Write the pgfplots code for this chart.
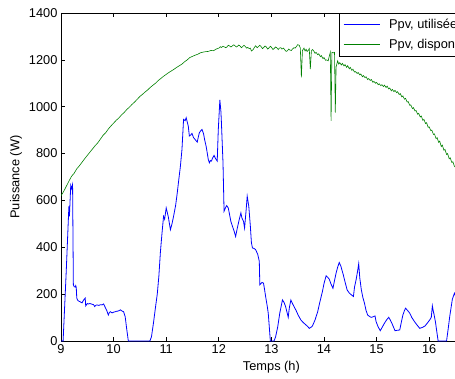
\documentclass[border=0pt]{standalone}
\usepackage{pgfplots}
\pgfplotsset{compat=1.18}
\usepackage{fontspec}
\setmainfont{Liberation Sans}
\definecolor{mblue}{rgb}{0,0,1}
\definecolor{mgreen}{rgb}{0,0.5,0}
\begin{document}
\begin{tikzpicture}
\begin{axis}[
  at={(61pt,37pt)}, anchor=south west,
  scale only axis, width=420.8pt, height=328pt,
  xmin=9, xmax=17, ymin=0, ymax=1400,
  xtick={9,10,...,17}, ytick={0,200,...,1400},
  tick align=inside, major tick length=4pt,
  axis line style={black, line width=0.6pt},
  tick style={black, line width=0.6pt},
  /pgf/number format/assume math mode=true,
  /pgf/number format/1000 sep={},
  tick label style={font=\fontsize{12.8}{15}\selectfont},
  xlabel={Temps (h)}, ylabel={Puissance (W)},
  xlabel style={at={(axis description cs:0.5,-0.079)}, anchor=center, font=\fontsize{12.8}{15}\selectfont},
  ylabel style={at={(axis description cs:-0.107,0.5)}, rotate=0, anchor=center, font=\fontsize{12.8}{15}\selectfont},
  legend style={at={(axis description cs:0.6607,1)}, anchor=north west,
    draw=black, line width=0.6pt, fill=white,
    font=\fontsize{12.8}{15}\selectfont,
    inner xsep=4pt, inner ysep=4pt, row sep=5pt, column sep=7pt,
    nodes={inner sep=2pt, anchor=west}},
  legend cell align=left,
  legend image code/.code={\draw[#1, line width=0.8pt] (0pt,0pt) -- (36pt,0pt);},
]
\addplot[mblue, line width=0.8pt] coordinates {
(9.00,0)(9.04,0)(9.10,300)(9.15,575)(9.16,532)(9.185,663)(9.20,650)(9.22,668)(9.235,240)(9.25,232)(9.27,230)(9.28,236)(9.29,228)(9.30,183)(9.32,173)(9.34,170)(9.36,168)(9.38,165)(9.40,163)(9.43,175)(9.46,183)(9.47,150)(9.50,160)(9.52,158)(9.55,160)(9.59,157)(9.62,155)(9.64,147)(9.66,152)(9.68,154)(9.72,152)(9.75,155)(9.78,154)(9.81,158)(9.84,144)(9.87,130)(9.90,111)(9.92,122)(9.94,125)(9.97,120)(10.00,123)(10.03,125)(10.06,127)(10.09,128)(10.13,133)(10.16,128)(10.19,125)(10.22,104)(10.25,50)(10.28,0)(10.69,0)(10.72,18)(10.76,80)(10.79,133)(10.83,200)(10.86,275)(10.89,380)(10.92,460)(10.95,532)(10.97,520)(11.00,568)(11.04,530)(11.08,475)(11.11,500)(11.14,532)(11.18,580)(11.21,632)(11.24,690)(11.27,746)(11.30,818)(11.33,946)(11.36,940)(11.38,953)(11.40,935)(11.42,917)(11.44,875)(11.47,880)(11.49,886)(11.52,868)(11.55,860)(11.59,849)(11.61,870)(11.63,889)(11.66,898)(11.68,903)(11.71,885)(11.73,860)(11.76,830)(11.78,803)(11.80,775)(11.82,761)(11.84,770)(11.86,768)(11.88,780)(11.91,792)(11.94,778)(11.97,768)(11.99,900)(12.02,1029)(12.04,980)(12.05,932)(12.08,760)(12.10,554)(12.13,570)(12.15,578)(12.18,568)(12.20,545)(12.23,510)(12.26,489)(12.29,470)(12.32,446)(12.35,480)(12.39,520)(12.42,547)(12.44,525)(12.47,511)(12.49,482)(12.52,560)(12.54,618)(12.57,575)(12.60,490)(12.62,420)(12.64,397)(12.67,395)(12.70,390)(12.74,370)(12.77,340)(12.78,240)(12.82,250)(12.85,247)(12.87,220)(12.89,190)(12.92,150)(12.94,119)(12.96,60)(12.98,0)(13.05,0)(13.08,18)(13.12,60)(13.16,120)(13.21,175)(13.24,165)(13.27,147)(13.30,120)(13.32,101)(13.34,140)(13.37,175)(13.40,160)(13.43,147)(13.47,130)(13.51,110)(13.56,90)(13.60,80)(13.66,68)(13.69,62)(13.72,54)(13.75,58)(13.78,64)(13.83,90)(13.88,125)(13.92,165)(13.97,211)(14.00,245)(14.04,278)(14.07,272)(14.10,264)(14.13,245)(14.17,225)(14.20,258)(14.23,290)(14.26,315)(14.29,335)(14.32,320)(14.34,304)(14.37,280)(14.39,261)(14.42,235)(14.44,218)(14.48,205)(14.52,197)(14.56,190)(14.58,230)(14.61,261)(14.64,300)(14.66,330)(14.68,270)(14.71,218)(14.74,185)(14.77,161)(14.80,130)(14.83,111)(14.87,104)(14.90,101)(14.94,104)(14.97,107)(14.99,83)(15.03,60)(15.07,44)(15.11,60)(15.15,76)(15.19,90)(15.23,101)(15.26,90)(15.29,76)(15.32,60)(15.35,44)(15.40,46)(15.44,47)(15.47,80)(15.50,111)(15.53,130)(15.55,140)(15.59,130)(15.63,119)(15.67,100)(15.72,83)(15.77,68)(15.82,54)(15.87,58)(15.92,64)(15.97,78)(16.01,90)(16.04,101)(16.06,150)(16.08,125)(16.09,116)(16.12,80)(16.14,47)(16.17,0)(16.33,0)(16.36,50)(16.39,104)(16.44,178)(16.48,204)(16.52,180)
};
\addlegendentry{Ppv, utilisée}
\addplot[mgreen, line width=0.6pt] coordinates {
(9.00,620)(9.05,638)(9.10,660)(9.15,682)(9.20,703)(9.25,716)(9.30,735)(9.35,748)(9.40,763)(9.45,778)(9.50,792)(9.55,806)(9.60,820)(9.65,834)(9.70,846)(9.75,862)(9.80,878)(9.85,889)(9.90,905)(9.95,918)(10.00,930)(10.05,942)(10.10,952)(10.15,965)(10.20,975)(10.25,988)(10.30,998)(10.35,1010)(10.40,1020)(10.45,1032)(10.50,1044)(10.55,1053)(10.60,1063)(10.65,1072)(10.70,1083)(10.75,1092)(10.80,1101)(10.85,1112)(10.90,1121)(10.95,1130)(11.00,1138)(11.05,1146)(11.10,1153)(11.15,1160)(11.20,1168)(11.25,1175)(11.30,1182)(11.35,1192)(11.40,1200)(11.45,1210)(11.50,1215)(11.55,1220)(11.60,1224)(11.65,1230)(11.70,1233)(11.75,1235)(11.80,1236)(11.85,1240)(11.90,1239)(11.95,1246)(12.00,1250)(12.03,1256)(12.05,1253)(12.08,1258)(12.10,1256)(12.13,1252)(12.15,1254)(12.18,1262)(12.20,1260)(12.23,1255)(12.25,1258)(12.28,1264)(12.30,1262)(12.33,1255)(12.35,1257)(12.38,1263)(12.40,1260)(12.43,1252)(12.45,1256)(12.48,1262)(12.50,1258)(12.53,1250)(12.55,1253)(12.58,1248)(12.60,1250)(12.62,1238)(12.65,1243)(12.68,1254)(12.70,1260)(12.73,1252)(12.75,1256)(12.78,1262)(12.80,1258)(12.83,1248)(12.85,1252)(12.88,1259)(12.90,1256)(12.93,1246)(12.95,1250)(12.98,1258)(13.00,1254)(13.03,1244)(13.05,1248)(13.08,1255)(13.10,1252)(13.13,1244)(13.15,1250)(13.18,1252)(13.20,1246)(13.23,1250)(13.25,1244)(13.28,1236)(13.30,1238)(13.33,1246)(13.35,1242)(13.38,1240)(13.40,1246)(13.43,1252)(13.45,1250)(13.48,1258)(13.50,1265)(13.53,1262)(13.55,1250)(13.57,1125)(13.59,1240)(13.62,1250)(13.64,1238)(13.66,1245)(13.68,1236)(13.70,1240)(13.72,1248)(13.74,1160)(13.76,1238)(13.78,1244)(13.80,1240)(13.83,1228)(13.85,1232)(13.88,1222)(13.90,1226)(13.93,1214)(13.95,1218)(13.98,1205)(14.00,1210)(14.03,1198)(14.05,1200)(14.08,1196)(14.10,1215)(14.12,1232)(14.135,940)(14.15,1232)(14.18,1230)(14.20,1232)(14.215,975)(14.23,1170)(14.26,1196)(14.28,1182)(14.30,1188)(14.33,1178)(14.35,1185)(14.38,1174)(14.40,1180)(14.43,1168)(14.45,1175)(14.48,1162)(14.50,1168)(14.53,1155)(14.55,1160)(14.58,1148)(14.60,1150)(14.63,1142)(14.65,1146)(14.68,1136)(14.70,1140)(14.73,1128)(14.75,1133)(14.78,1124)(14.80,1128)(14.83,1116)(14.85,1120)(14.88,1112)(14.90,1116)(14.93,1104)(14.95,1108)(14.98,1100)(15.00,1104)(15.03,1094)(15.05,1098)(15.08,1090)(15.10,1094)(15.13,1086)(15.15,1092)(15.18,1082)(15.20,1088)(15.23,1076)(15.25,1080)(15.28,1068)(15.30,1074)(15.33,1064)(15.35,1070)(15.38,1060)(15.40,1064)(15.43,1052)(15.45,1056)(15.48,1042)(15.50,1046)(15.53,1032)(15.55,1036)(15.58,1020)(15.60,1022)(15.63,1006)(15.65,1008)(15.68,992)(15.70,996)(15.73,982)(15.75,984)(15.78,968)(15.80,972)(15.83,956)(15.85,960)(15.88,942)(15.90,946)(15.93,928)(15.95,932)(15.98,912)(16.00,914)(16.03,898)(16.05,900)(16.08,882)(16.10,884)(16.13,864)(16.15,868)(16.18,848)(16.20,853)(16.23,830)(16.25,836)(16.28,814)(16.30,818)(16.33,796)(16.35,800)(16.38,778)(16.40,782)(16.43,762)(16.45,765)(16.48,745)(16.50,742)(16.53,735)
};
\addlegendentry{Ppv, disponible}
\end{axis}
\pgfresetboundingbox
\useasboundingbox (0pt,0pt) rectangle (455pt,378pt);
\end{tikzpicture}
\end{document}
